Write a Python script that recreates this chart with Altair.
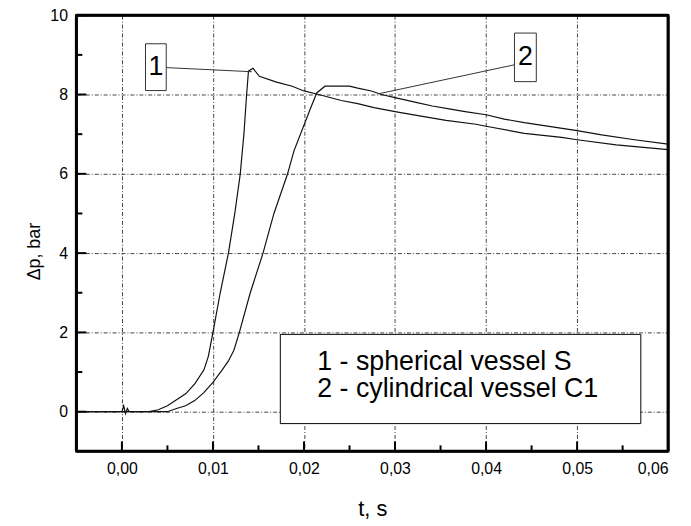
import altair as alt
import pandas as pd

# ---- data ----
t1 = [-0.005, 0.0, 0.0002, 0.0004, 0.0006, 0.0008, 0.003, 0.004, 0.005, 0.006, 0.007,
      0.008, 0.009, 0.0095, 0.0100, 0.0108, 0.0117, 0.0124, 0.0130, 0.0134, 0.0137,
      0.0139, 0.0144, 0.0151, 0.0169, 0.0187, 0.0200, 0.0216, 0.0241, 0.0259, 0.0277,
      0.0300, 0.0327, 0.0356, 0.0389, 0.0400, 0.0442, 0.0483, 0.0500, 0.0543, 0.0600]
p1 = [0, 0, 0.15, -0.05, 0.08, 0, 0, 0.05, 0.15, 0.3, 0.45,
      0.7, 1.05, 1.4, 2.0, 3.0, 4.0, 5.0, 6.0, 7.0, 8.0,
      8.59, 8.66, 8.46, 8.32, 8.21, 8.09, 8.0, 7.85, 7.77, 7.67,
      7.57, 7.46, 7.35, 7.25, 7.2, 7.02, 6.92, 6.86, 6.73, 6.61]

t2 = [-0.005, 0.005, 0.006, 0.007, 0.008, 0.009, 0.010, 0.011, 0.0117, 0.0123, 0.0129,
      0.0141, 0.0155, 0.0167, 0.0182, 0.0189, 0.0207, 0.0214, 0.0223, 0.0250, 0.0259,
      0.0274, 0.0285, 0.0300, 0.0323, 0.0341, 0.0361, 0.0377, 0.0400, 0.0420, 0.0442,
      0.0471, 0.0500, 0.0527, 0.0563, 0.0600]
p2 = [0, 0, 0.08, 0.15, 0.28, 0.48, 0.74, 1.05, 1.28, 1.55, 2.0,
      3.0, 4.0, 5.0, 6.0, 6.58, 7.64, 8.04, 8.21, 8.21, 8.16,
      8.09, 8.0, 7.92, 7.80, 7.71, 7.63, 7.57, 7.49, 7.38, 7.29,
      7.19, 7.09, 6.98, 6.86, 6.75]

x_major = [0.0, 0.01, 0.02, 0.03, 0.04, 0.05, 0.06]
x_minor = [0.005, 0.015, 0.025, 0.035, 0.045, 0.055]
y_major = [0, 2, 4, 6, 8, 10]
y_minor = [1, 3, 5, 7, 9]

legend_lines = ["1 - spherical vessel S", "2 - cylindrical vessel C1"]
series_labels = ["1", "2"]

FONT = "Liberation Sans"
W, H = 597, 440

df = pd.DataFrame({
    "t": t1 + t2,
    "p": p1 + p2,
    "series": ["1"] * len(t1) + ["2"] * len(t2),
})

xscale = alt.Scale(domain=[-0.005, 0.06], nice=False, zero=False)
yscale = alt.Scale(domain=[-1, 10], nice=False, zero=False)

xaxis = alt.Axis(
    values=x_major, grid=True, ticks=False, domain=False,
    labelExpr="replace(format(datum.value, '.2f'), '.', ',')",
    labelFontSize=16, labelPadding=9, labelColor="#000", labelFont=FONT,
    title="t, s", titleFontSize=22, titleFont=FONT, titleFontWeight="normal",
    titlePadding=23, titleColor="#000",
    gridDash=[4, 2, 1, 2], gridColor="#222", gridOpacity=0.85, gridWidth=1,
)
yaxis = alt.Axis(
    values=y_major, grid=True, ticks=False, domain=False,
    labelFontSize=16, labelPadding=9, labelColor="#000", labelFont=FONT,
    title="Δp, bar", titleFontSize=18, titleFont=FONT, titleFontWeight="normal",
    titlePadding=6, titleColor="#000", titleY=238,
    gridDash=[4, 2, 1, 2], gridColor="#222", gridOpacity=0.85, gridWidth=1,
)


def X(field):
    return alt.X(field, scale=xscale, axis=xaxis)


def Y(field):
    return alt.Y(field, scale=yscale, axis=yaxis)


lines = alt.Chart(df).mark_line(color="#111", strokeWidth=1.2, clip=True).encode(
    x=X("t:Q"), y=Y("p:Q"), detail="series:N",
)

# inward ticks
xt_major = alt.Chart(pd.DataFrame({"t": x_major})).mark_rule(color="black", strokeWidth=2).encode(
    x=X("t:Q"), y=alt.value(H), y2=alt.value(H - 10))
xt_minor = alt.Chart(pd.DataFrame({"t": x_minor})).mark_rule(color="black", strokeWidth=2).encode(
    x=X("t:Q"), y=alt.value(H), y2=alt.value(H - 6))
yt_major = alt.Chart(pd.DataFrame({"p": y_major})).mark_rule(color="black", strokeWidth=2).encode(
    y=Y("p:Q"), x=alt.value(0), x2=alt.value(10))
yt_minor = alt.Chart(pd.DataFrame({"p": y_minor})).mark_rule(color="black", strokeWidth=2).encode(
    y=Y("p:Q"), x=alt.value(0), x2=alt.value(6))

# legend box
legend_box = alt.Chart(pd.DataFrame({"t": [0.0174], "t2": [0.0570], "p": [1.95], "p2": [-0.3]})).mark_rect(
    fill="white", stroke="black", strokeWidth=1).encode(
    x=X("t:Q"), x2="t2:Q", y=Y("p:Q"), y2="p2:Q")
legend_text = alt.Chart(pd.DataFrame({"t": [0.02146, 0.02146], "p": [1.06, 0.375], "txt": legend_lines})).mark_text(
    align="left", baseline="alphabetic", fontSize=27, font=FONT, color="black").encode(
    x=X("t:Q"), y=Y("p:Q"), text="txt:N")

# numbered label boxes with leaders
lab_boxes = alt.Chart(pd.DataFrame({
    "t": [0.00259, 0.04312], "t2": [0.00487, 0.04552],
    "p": [9.28, 9.55], "p2": [8.1, 8.325]})).mark_rect(
    fill="white", stroke="#333", strokeWidth=1).encode(
    x=X("t:Q"), x2="t2:Q", y=Y("p:Q"), y2="p2:Q")
lab_text = alt.Chart(pd.DataFrame({"t": [0.00373, 0.04432], "p": [8.69, 8.94], "txt": series_labels})).mark_text(
    align="center", baseline="middle", fontSize=27, font=FONT, color="black").encode(
    x=X("t:Q"), y=Y("p:Q"), text="txt:N")
leaders = alt.Chart(pd.DataFrame({
    "t": [0.00477, 0.04312], "p": [8.68, 8.75],
    "t2": [0.01427, 0.02832], "p2": [8.575, 8.025]})).mark_rule(color="#333", strokeWidth=1).encode(
    x=X("t:Q"), x2="t2:Q", y=Y("p:Q"), y2="p2:Q")

# thick plot frame (four rules) on top of the grid
frame_top = alt.Chart(pd.DataFrame({"k": [0]})).mark_rule(color="black", strokeWidth=3).encode(
    x=alt.value(0), x2=alt.value(W), y=alt.value(0))
frame_bottom = alt.Chart(pd.DataFrame({"k": [0]})).mark_rule(color="black", strokeWidth=3).encode(
    x=alt.value(0), x2=alt.value(W), y=alt.value(H))
frame_left = alt.Chart(pd.DataFrame({"k": [0]})).mark_rule(color="black", strokeWidth=3).encode(
    y=alt.value(0), y2=alt.value(H), x=alt.value(0))
frame_right = alt.Chart(pd.DataFrame({"k": [0]})).mark_rule(color="black", strokeWidth=3).encode(
    y=alt.value(0), y2=alt.value(H), x=alt.value(W))

chart = alt.layer(
    lines, xt_major, xt_minor, yt_major, yt_minor,
    legend_box, legend_text, leaders, lab_boxes, lab_text,
    frame_top, frame_bottom, frame_left, frame_right,
).properties(
    width=W, height=H,
    background="white",
    autosize=alt.AutoSizeParams(type="none"),
    padding={"left": 69, "top": 5, "right": 15, "bottom": 70},
).configure_view(stroke="black", strokeWidth=2.5)

chart.save("out.html", embed_options={"renderer": "svg", "actions": False})
